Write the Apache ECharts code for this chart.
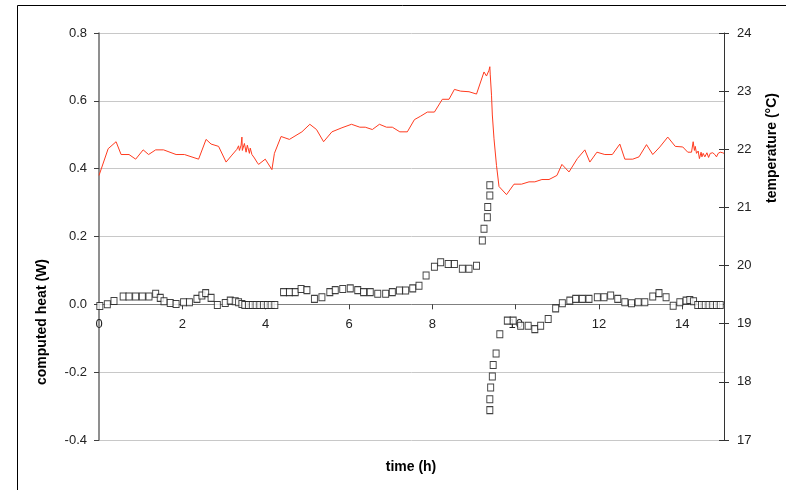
<!DOCTYPE html>
<html>
<head>
<meta charset="utf-8">
<script src="https://cdn.jsdelivr.net/npm/echarts@6/dist/echarts.min.js"></script>
<style>
html,body{margin:0;padding:0;background:#fff;}
#c{width:786px;height:490px;}
</style>
</head>
<body>
<div id="c"></div>
<script>
// computed heat (W) – black open squares, left axis
var heatTime = [0.02,0.20,0.36,0.58,0.72,0.88,1.04,1.20,1.36,1.47,1.56,1.71,1.85,2.03,2.17,2.35,2.47,2.56,2.69,2.84,3.03,3.15,3.27,3.35,3.43,
  3.50,3.59,3.68,3.77,3.86,3.95,4.04,4.13,4.22,
  4.43,4.57,4.71,4.85,4.99,5.17,5.35,5.54,5.67,5.85,6.03,6.21,6.35,6.51,6.69,6.88,7.04,7.21,7.36,7.53,7.68,7.85,8.05,8.20,8.38,8.53,8.72,8.88,9.06,
  9.20,9.24,9.32,9.33,9.38,9.38,9.38,9.38,9.40,9.44,9.46,9.53,9.62,9.80,9.94,10.12,10.30,10.46,10.60,10.78,10.96,
  11.12,11.30,11.44,11.60,11.76,11.96,12.12,12.28,12.45,12.62,12.78,12.94,13.10,13.29,13.44,13.61,13.78,13.94,14.09,14.18,14.27,
  14.37,14.46,14.55,14.64,14.73,14.82,14.91];
var heatValue = [-0.005,0.0,0.01,0.023,0.023,0.023,0.023,0.023,0.031,0.019,0.009,0.004,0.001,0.006,0.006,0.016,0.026,0.033,0.019,-0.002,0.004,0.011,0.009,0.006,0.001,
  -0.002,-0.002,-0.002,-0.002,-0.002,-0.002,-0.002,-0.002,-0.002,
  0.036,0.036,0.036,0.045,0.042,0.016,0.021,0.036,0.042,0.045,0.047,0.042,0.036,0.036,0.031,0.031,0.036,0.041,0.041,0.047,0.055,0.085,0.111,0.124,0.119,0.119,0.105,0.105,0.114,
  0.188,0.223,0.257,0.287,0.321,0.351,-0.312,-0.280,-0.245,-0.213,-0.179,-0.145,-0.088,-0.048,-0.048,-0.063,-0.063,-0.073,-0.063,-0.043,-0.012,
  0.003,0.011,0.016,0.016,0.016,0.021,0.021,0.026,0.016,0.006,0.003,0.006,0.006,0.023,0.033,0.021,-0.004,0.006,0.011,0.013,0.009,
  -0.002,-0.002,-0.002,-0.002,-0.002,-0.002,-0.002];

// temperature (°C) – red line, right axis
var tempTime = [0.0,0.22,0.41,0.53,0.72,0.88,1.06,1.19,1.36,1.55,1.85,2.05,2.39,2.57,2.69,2.87,3.05,3.19,3.31,3.35,3.37,3.41,3.43,3.44,3.49,3.53,3.56,3.61,3.63,3.67,3.73,3.79,
  3.83,3.99,4.15,4.21,4.37,4.57,4.87,5.06,5.22,5.39,5.59,5.83,6.06,6.26,6.39,6.56,6.73,6.90,7.04,7.22,7.40,7.57,7.72,7.88,8.05,8.24,8.40,8.53,8.68,8.88,9.06,
  9.24,9.30,9.36,9.38,9.39,9.42,9.44,9.48,9.54,9.60,9.78,9.96,10.14,10.32,10.46,10.63,10.80,10.99,11.11,11.28,11.48,11.66,11.78,11.95,12.14,12.32,12.50,12.62,12.81,12.96,
  13.14,13.29,13.46,13.65,13.83,14.01,14.13,14.22,14.26,14.29,14.31,14.34,14.38,14.41,14.45,14.47,14.50,14.54,14.59,14.63,14.67,14.73,14.78,14.82,14.86,14.91,14.97,15.0];
var tempValue = [21.55,22.01,22.13,21.91,21.91,21.83,21.99,21.91,21.99,21.99,21.91,21.91,21.83,22.17,22.09,22.05,21.78,21.90,22.00,22.06,21.98,22.07,22.21,21.98,22.10,21.95,22.07,21.93,22.02,21.91,21.85,21.78,
  21.74,21.83,21.65,21.93,22.22,22.17,22.30,22.43,22.34,22.13,22.30,22.37,22.43,22.38,22.38,22.34,22.43,22.38,22.38,22.30,22.30,22.51,22.57,22.64,22.64,22.86,22.86,23.03,23.00,22.99,22.95,
  23.33,23.26,23.36,23.42,23.28,22.93,22.59,22.18,21.72,21.36,21.22,21.40,21.40,21.44,21.44,21.48,21.48,21.55,21.74,21.61,21.84,21.99,21.78,21.95,21.91,21.91,22.09,21.83,21.83,21.87,
  22.08,21.91,22.04,22.21,22.05,22.04,21.95,21.95,22.13,21.98,22.05,21.93,21.97,21.84,21.95,21.87,21.93,21.87,21.94,21.86,21.93,21.94,21.91,21.87,21.93,21.95,21.94,21.93];

var leftTicks = ['-0.4','-0.2','0.0','0.2','0.4','0.6','0.8'];

var heatData = heatTime.map(function(t,i){return [t, heatValue[i]];});
var tempData = tempTime.map(function(t,i){return [t, tempValue[i]];});

var FONT = '"Liberation Sans", Arial, sans-serif';
var GRID_TOP = 33, GRID_BOTTOM = 50, H = 490;
var plotH = H - GRID_TOP - GRID_BOTTOM;
// place the x axis line on heat = 0 (0 lies 0.4/1.2 of the way up from the bottom)
var xOffset = -(plotH * 0.4 / 1.2);

var chart = echarts.init(document.getElementById('c'), null, {renderer:'canvas'});
chart.setOption({
  animation:false,
  backgroundColor:'#ffffff',
  grid:{left:99, right:62, top:GRID_TOP, bottom:GRID_BOTTOM, containLabel:false},
  xAxis:{
    type:'value', min:0, max:15, interval:2, offset:xOffset,
    axisLine:{show:true, onZero:false, lineStyle:{color:'#808080', width:1}},
    axisTick:{show:true, length:5, lineStyle:{color:'#404040'}},
    axisLabel:{color:'#222', fontFamily:FONT, fontSize:13, margin:14,
      formatter:function(v){return v===15?'':String(v);}},
    splitLine:{show:false}
  },
  yAxis:[
    {type:'value', position:'left', min:-0.4, max:0.8, interval:0.2,
      axisLine:{show:true, lineStyle:{color:'#6a6a6a', width:1.5}},
      axisTick:{show:true, length:5, lineStyle:{color:'#404040'}},
      axisLabel:{color:'#222', fontFamily:FONT, fontSize:13, margin:12,
        formatter:function(v){var i=Math.round((v+0.4)/0.2); return leftTicks[i];}},
      splitLine:{show:true, lineStyle:{color:'#c8c8c8', width:1}}
    },
    {type:'value', position:'right', min:17, max:24, interval:1,
      axisLine:{show:true, lineStyle:{color:'#333', width:1}},
      axisTick:{show:true, length:5, lineStyle:{color:'#333'}},
      axisLabel:{color:'#222', fontFamily:FONT, fontSize:13, margin:13},
      splitLine:{show:false}
    },
    {type:'value', position:'right', min:17, max:24, interval:1,
      axisLine:{show:false},
      axisTick:{show:true, inside:true, length:5, lineStyle:{color:'#333'}},
      axisLabel:{show:false},
      splitLine:{show:false}
    }
  ],
  series:[
    {type:'line', yAxisIndex:1, data:tempData, showSymbol:false, symbol:'none',
      lineStyle:{color:'#ff3b1f', width:1}, z:2},
    {type:'scatter', yAxisIndex:0, data:heatData, symbol:'rect', symbolSize:[6,7],
      itemStyle:{color:'#ffffff', borderColor:'#111', borderWidth:1}, z:3}
  ],
  graphic:[
    {type:'rect', shape:{x:17.5, y:5.5, width:800, height:520}, style:{fill:'none', stroke:'#000', lineWidth:1}, silent:true},
    {type:'text', x:42, y:322, rotation:Math.PI/2, style:{text:'computed heat (W)', font:'bold 14px '+FONT, fill:'#000', textAlign:'center', textVerticalAlign:'middle'}},
    {type:'text', x:772, y:148, rotation:Math.PI/2, style:{text:'temperature (°C)', font:'bold 14px '+FONT, fill:'#000', textAlign:'center', textVerticalAlign:'middle'}},
    {type:'text', x:411, y:467, style:{text:'time (h)', font:'bold 14px '+FONT, fill:'#000', textAlign:'center', textVerticalAlign:'middle'}}
  ]
});
</script>
</body>
</html>
